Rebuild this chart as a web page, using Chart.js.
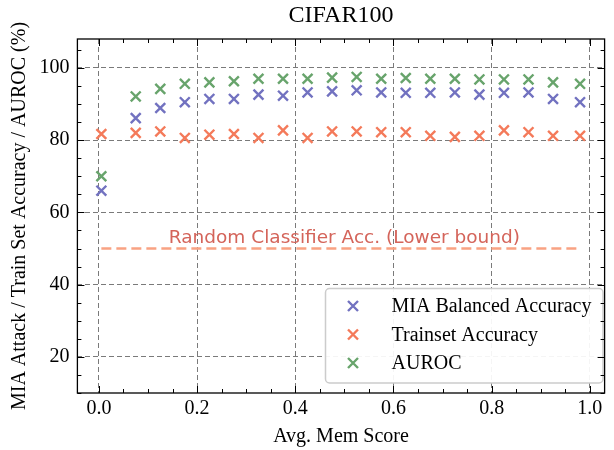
<!DOCTYPE html>
<html>
<head>
<meta charset="utf-8">
<script src="https://cdn.jsdelivr.net/npm/chart.js@4/dist/chart.umd.min.js"></script>
<style>
  html, body { margin: 0; padding: 0; background: #fff; }
  #wrap { width: 614px; height: 450px; }
</style>
</head>
<body>
<div id="wrap"><canvas id="memChart" width="614" height="450"></canvas></div>
<script>
// Mean memorization score of each bin
const memScores = [0.005, 0.075, 0.125, 0.175, 0.225, 0.275, 0.325, 0.375, 0.425, 0.475,
                   0.525, 0.575, 0.625, 0.675, 0.725, 0.775, 0.825, 0.875, 0.925, 0.98];

// Metrics per bin (%)
const miaBalancedAcc = [66.0, 86.1, 88.9, 90.5, 91.4, 91.4, 92.6, 92.3, 93.2, 93.5,
                        93.8, 93.2, 93.1, 93.1, 93.2, 92.6, 93.1, 93.2, 91.4, 90.5];
const trainsetAcc = [81.7, 82.0, 82.4, 80.6, 81.5, 81.7, 80.6, 82.7, 80.6, 82.4,
                     82.4, 82.2, 82.2, 81.2, 80.9, 81.2, 82.7, 82.2, 81.2, 81.2];
const auroc = [70.0, 92.1, 94.2, 95.6, 96.0, 96.3, 97.0, 97.0, 97.0, 97.3,
               97.5, 97.0, 97.2, 97.0, 97.0, 96.8, 96.8, 96.8, 96.0, 95.6];

// Random classifier baseline
const randomAcc = 50;
const randomLabel = 'Random Classifier Acc. (Lower bound)';

// Axis ticks
const xMajorTicks = [0.0, 0.2, 0.4, 0.6, 0.8, 1.0];
const yMajorTicks = [20, 40, 60, 80, 100];

const SERIF = '"Liberation Serif", "Times New Roman", serif';
const SANS = '"DejaVu Sans", sans-serif';

const colors = {
  mia: '#7272c0',
  train: '#f47a5a',
  auroc: '#68a46c',
  baseline: '#f9a283',
  baselineText: '#d4645a'
};

function toPoints(xs, ys) {
  return xs.map((x, i) => ({ x: x, y: ys[i] }));
}

const seriesList = [
  { label: 'MIA Balanced Accuracy', values: miaBalancedAcc, color: colors.mia },
  { label: 'Trainset Accuracy', values: trainsetAcc, color: colors.train },
  { label: 'AUROC', values: auroc, color: colors.auroc }
];

const scatterSets = seriesList.map(s => ({
  type: 'scatter',
  label: s.label,
  data: toPoints(memScores, s.values),
  pointStyle: 'crossRot',
  pointRadius: 7,
  pointHoverRadius: 7,
  borderWidth: 2.4,
  borderColor: s.color,
  backgroundColor: s.color
}));

const baselineSet = {
  type: 'line',
  label: randomLabel,
  data: [{ x: memScores[0], y: randomAcc }, { x: memScores[memScores.length - 1], y: randomAcc }],
  borderColor: colors.baseline,
  borderWidth: 2.5,
  borderDash: [10, 5],
  pointRadius: 0,
  fill: false
};

// Frame, inward ticks, texts and legend
const framePlugin = {
  id: 'frame',
  afterDatasetsDraw(chart) {
    const { ctx, chartArea: a, scales: { x, y } } = chart;
    ctx.save();

    // baseline label
    ctx.font = '18.5px ' + SANS;
    ctx.fillStyle = colors.baselineText;
    ctx.textAlign = 'center';
    ctx.textBaseline = 'alphabetic';
    ctx.fillText(randomLabel, x.getPixelForValue(0.5), y.getPixelForValue(randomAcc) - 6);

    // legend box
    const lg = { left: 325.5, top: 288.5, right: 603, bottom: 383 };
    ctx.beginPath();
    ctx.roundRect(lg.left, lg.top, lg.right - lg.left, lg.bottom - lg.top, 4);
    ctx.fillStyle = 'rgba(255,255,255,0.92)';
    ctx.fill();
    ctx.strokeStyle = '#cccccc';
    ctx.lineWidth = 1.5;
    ctx.stroke();

    ctx.font = '20px ' + SERIF;
    ctx.textAlign = 'left';
    ctx.textBaseline = 'middle';
    seriesList.forEach((s, i) => {
      const cy = 306 + i * 28.5;
      const cx = 353;
      const d = 5;
      ctx.strokeStyle = s.color;
      ctx.lineWidth = 2.4;
      ctx.beginPath();
      ctx.moveTo(cx - d, cy - d); ctx.lineTo(cx + d, cy + d);
      ctx.moveTo(cx - d, cy + d); ctx.lineTo(cx + d, cy - d);
      ctx.stroke();
      ctx.fillStyle = '#000';
      ctx.fillText(s.label, 391.5, cy + 1);
    });

    // spines
    ctx.strokeStyle = '#000';
    ctx.lineWidth = 1.3;
    ctx.strokeRect(a.left, a.top, a.right - a.left, a.bottom - a.top);

    // inward ticks on all four sides
    ctx.lineWidth = 1;
    const tick = (x1, y1, x2, y2) => { ctx.beginPath(); ctx.moveTo(x1, y1); ctx.lineTo(x2, y2); ctx.stroke(); };
    for (let v = 0; v <= x.max + 1e-9; v += 0.05) {
      const major = Math.abs(v / 0.2 - Math.round(v / 0.2)) < 1e-6;
      const len = major ? 7 : 4;
      const px = Math.round(x.getPixelForValue(v)) + 0.5;
      tick(px, a.bottom, px, a.bottom - len);
      tick(px, a.top, px, a.top + len);
    }
    for (let v = 10; v <= y.max + 1e-9; v += 5) {
      const major = v % 20 === 0;
      const len = major ? 7 : 4;
      const py = Math.round(y.getPixelForValue(v)) + 0.5;
      tick(a.left, py, a.left + len, py);
      tick(a.right, py, a.right - len, py);
    }

    // titles
    ctx.fillStyle = '#000';
    ctx.textAlign = 'center';
    ctx.textBaseline = 'middle';
    const midX = (a.left + a.right) / 2;
    ctx.font = '24px ' + SERIF;
    ctx.fillText('CIFAR100', midX, 16);
    ctx.font = '20px ' + SERIF;
    ctx.fillText('Avg. Mem Score', midX, 437);
    ctx.translate(20, (a.top + a.bottom) / 2);
    ctx.rotate(-Math.PI / 2);
    ctx.fillText('MIA Attack / Train Set Accuracy / AUROC (%)', 0, 0);
    ctx.restore();
  }
};

const gridStyle = { color: '#7a7a7a', lineWidth: 1, drawTicks: false };

new Chart(document.getElementById('memChart'), {
  type: 'scatter',
  data: { datasets: [...scatterSets, baselineSet] },
  options: {
    responsive: false,
    animation: false,
    layout: { padding: { top: 39, left: 0, right: 0, bottom: 0 } },
    plugins: { legend: { display: false }, tooltip: { enabled: false } },
    scales: {
      x: {
        type: 'linear',
        min: -0.0438,
        max: 1.03,
        afterBuildTicks: s => { s.ticks = xMajorTicks.map(v => ({ value: v })); },
        afterFit: s => { s.height = 57; },
        grid: gridStyle,
        border: { display: false, dash: [5, 3] },
        ticks: {
          color: '#000',
          font: { family: SERIF, size: 20 },
          padding: 4,
          maxRotation: 0,
          autoSkip: false,
          callback: v => Number(v).toFixed(1)
        }
      },
      y: {
        type: 'linear',
        min: 10,
        max: 108,
        afterBuildTicks: s => { s.ticks = yMajorTicks.map(v => ({ value: v })); },
        afterFit: s => { s.width = 77.4; },
        grid: gridStyle,
        border: { display: false, dash: [5, 3] },
        ticks: {
          color: '#000',
          font: { family: SERIF, size: 20 },
          padding: 8,
          autoSkip: false
        }
      }
    }
  },
  plugins: [framePlugin]
});
</script>
</body>
</html>
